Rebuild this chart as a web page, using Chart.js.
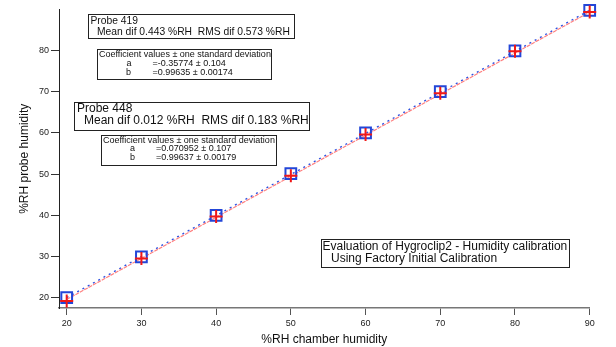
<!DOCTYPE html>
<html lang="en">
<head>
<meta charset="UTF-8">
<title>Hygroclip2 humidity calibration</title>
<script src="https://cdn.jsdelivr.net/npm/chart.js@4.4.1/dist/chart.umd.min.js"></script>
<style>
  html, body { margin: 0; padding: 0; background: #fff; }
  canvas { display: block; }
</style>
</head>
<body>
<canvas id="calChart" width="616" height="347"></canvas>
<script>
// chamber set points and what each probe read
const chamberRH = [20, 30, 40, 50, 60, 70, 80, 90];
const probe419 = [19.2, 29.5, 39.7, 49.6, 59.6, 69.6, 79.8, 89.3];
const probe448 = [20.0, 29.9, 40.0, 50.1, 60.0, 70.0, 79.9, 89.7];

// linear fit end points (a + b*x at 20 and 90)
const fitX = [20, 90];
const fit419 = [19.57, 89.31];
const fit448 = [20.01, 89.74];

const xTicks = [20, 30, 40, 50, 60, 70, 80, 90];
const yTicks = [20, 30, 40, 50, 60, 70, 80];

const FONT = '"Liberation Sans", Arial, Helvetica, sans-serif';

function pts(xs, ys) {
  return xs.map((x, i) => ({ x: x, y: ys[i] }));
}

// text boxes drawn over the plot
const notes = [
  { box: [88, 14, 294, 38], size: 10.3, lines: [
    [90.5, 24, 'Probe 419'],
    [97, 34.7, 'Mean dif 0.443 %RH  RMS dif 0.573 %RH']] },
  { box: [97, 49, 271, 79], size: 9, lines: [
    [99, 56.7, 'Coefficient values \u00b1 one standard deviation'],
    [126.5, 65.7, 'a'], [152.5, 65.7, '=-0.35774 \u00b1 0.104'],
    [126, 74.7, 'b'], [152.5, 74.7, '=0.99635 \u00b1 0.00174']] },
  { box: [74, 102, 309, 130], size: 12, lines: [
    [77, 112.3, 'Probe 448'],
    [84, 124, 'Mean dif 0.012 %RH  RMS dif 0.183 %RH']] },
  { box: [101, 135, 276, 165], size: 9, lines: [
    [103, 142.7, 'Coefficient values \u00b1 one standard deviation'],
    [130, 151, 'a'], [156, 151, '=0.070952 \u00b1 0.107'],
    [130, 159.7, 'b'], [156, 159.7, '=0.99637 \u00b1 0.00179']] },
  { box: [321, 239, 569, 267], size: 12, lines: [
    [322.5, 250.3, 'Evaluation of Hygroclip2 - Humidity calibration'],
    [331, 262.3, 'Using Factory Initial Calibration']] }
];

const notesPlugin = {
  id: 'notes',
  afterDraw(chart) {
    const ctx = chart.ctx;
    ctx.save();
    notes.forEach(n => {
      const [x0, y0, x1, y1] = n.box;
      ctx.fillStyle = '#fff';
      ctx.fillRect(x0, y0, x1 - x0, y1 - y0);
      ctx.strokeStyle = '#222';
      ctx.lineWidth = 1;
      ctx.strokeRect(x0 + 0.5, y0 + 0.5, x1 - x0, y1 - y0);
      ctx.fillStyle = '#111';
      ctx.font = n.size + 'px ' + FONT;
      ctx.textBaseline = 'alphabetic';
      ctx.textAlign = 'left';
      n.lines.forEach(l => ctx.fillText(l[2], l[0], l[1]));
    });
    ctx.restore();
  }
};

new Chart(document.getElementById('calChart'), {
  type: 'scatter',
  data: {
    datasets: [
      {
        label: 'Probe 419',
        data: pts(chamberRH, probe419),
        pointStyle: 'cross',
        pointRadius: 6.5,
        borderColor: '#f01818',
        borderWidth: 2,
        clip: false
      },
      {
        label: 'Probe 448',
        data: pts(chamberRH, probe448),
        pointStyle: 'rect',
        pointRadius: 7.6,
        borderColor: '#2346d8',
        backgroundColor: 'rgba(0,0,0,0)',
        borderWidth: 2,
        clip: false
      },
      {
        label: 'fit 419',
        data: pts(fitX, fit419),
        showLine: true,
        pointRadius: 0,
        borderColor: '#ff8080',
        borderWidth: 1.2,
        borderDash: [4, 1]
      },
      {
        label: 'fit 448',
        data: pts(fitX, fit448),
        showLine: true,
        pointRadius: 0,
        borderColor: '#2f52e0',
        borderWidth: 1.4,
        borderDash: [2, 4]
      }
    ]
  },
  options: {
    responsive: false,
    devicePixelRatio: 1,
    animation: false,
    layout: { padding: { left: 0, top: 8, right: 26.3, bottom: 0 } },
    plugins: { legend: { display: false }, tooltip: { enabled: false } },
    scales: {
      x: {
        type: 'linear',
        min: 18.97,
        max: 90,
        afterBuildTicks: s => { s.ticks = xTicks.map(v => ({ value: v })); },
        afterFit: s => { s.height = 39; },
        grid: { drawOnChartArea: false, drawTicks: true, tickLength: 7, tickColor: '#555' },
        border: { display: true, color: '#777', width: 1.5 },
        ticks: { color: '#222', padding: 3, maxRotation: 0, font: { family: FONT, size: 9 } },
        title: { display: true, text: '%RH chamber humidity', color: '#111',
          padding: { top: 5, bottom: 0 }, font: { family: FONT, size: 12 } }
      },
      y: {
        type: 'linear',
        min: 17.5,
        max: 89.9,
        afterBuildTicks: s => { s.ticks = yTicks.map(v => ({ value: v })); },
        afterFit: s => { s.width = 59; },
        grid: { drawOnChartArea: false, drawTicks: true, tickLength: 8, tickColor: '#333' },
        border: { display: true, color: '#222', width: 1 },
        ticks: { color: '#222', padding: 2, font: { family: FONT, size: 9 } },
        title: { display: true, text: '%RH probe humidity', color: '#111',
          padding: { top: 17, bottom: 0 }, font: { family: FONT, size: 12 } }
      }
    }
  },
  plugins: [notesPlugin]
});
</script>
</body>
</html>
